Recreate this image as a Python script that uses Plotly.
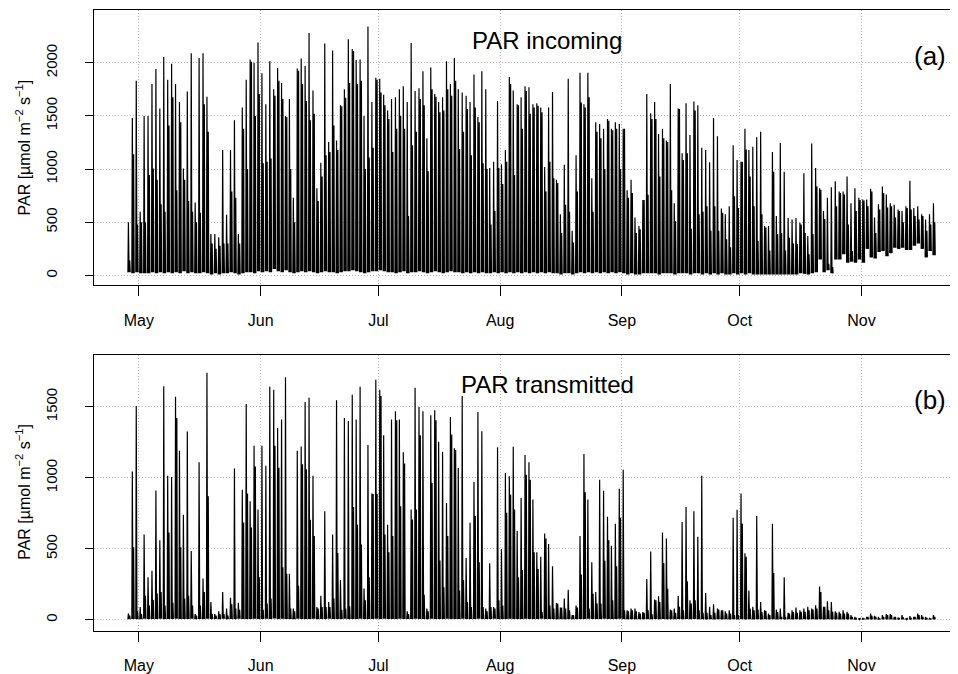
import plotly.graph_objects as go
import pandas as pd

# ---------------- data, one value per day, 2015-04-28 .. 2015-11-19 ----------------
first_day = "2015-04-28"

month_starts = ["2015-05-01", "2015-06-01", "2015-07-01", "2015-08-01", "2015-09-01", "2015-10-01", "2015-11-01"]
month_labels = ["May", "Jun", "Jul", "Aug", "Sep", "Oct", "Nov"]

# (a) PAR incoming: daily highest spike, second spike, daytime low
inc_peak = [
    500, 1480, 1830,
    600, 1500, 1500, 1800, 1940, 1570, 2055, 1840, 1990, 1800, 1630, 1005, 1730, 2090, 685, 2045, 2090, 1680, 390, 390,
    360, 1180, 570, 1180, 1460, 390, 1580, 1840, 2030, 2000, 2190,
    1900, 1610, 2015, 1750, 1950, 1810, 1500, 1660, 730, 1945, 2040, 1970, 2280, 1740, 820, 1060, 2180, 1255, 2115, 1270,
    1600, 1750, 2220, 2130, 2025, 2030, 1500, 2340, 1630, 1860,
    1850, 1700, 1550, 1660, 1675, 1750, 1780, 1630, 2185, 1735, 1760, 1920, 1290, 1955, 1705, 1630, 1675, 2015, 1800, 2045,
    1750, 1720, 1690, 1630, 1890, 1490, 1920, 1750, 1010, 1070, 1640,
    1045, 1180, 1865, 1740, 1610, 1675, 1780, 1770, 1610, 1620, 1580, 1020, 1580, 1725, 900, 575, 1040, 1850, 420, 1130,
    1905, 1610, 1905, 915, 1440, 1425, 1380, 1470, 1380, 1440, 1425,
    1380, 800, 900, 545, 465, 710, 1705, 1525, 1630, 1330, 1380, 1270, 1800, 680, 1570, 1150, 1620, 1320, 1635, 1600,
    1200, 1180, 1065, 1480, 1310, 630, 575, 650, 1225, 1085,
    1070, 1380, 1180, 1210, 1300, 1350, 465, 465, 1160, 560, 1245, 975, 540, 525, 540, 495, 960, 370, 1240, 1010,
    820, 605, 730, 830, 885, 790, 790, 930, 680, 820, 730,
    713, 713, 815, 545, 670, 837, 760, 680, 665, 620, 605, 650, 890, 635, 650, 575, 525, 575, 680,
]
inc_second = [
    140, 1140, 480,
    500, 500, 945, 1005, 900, 670, 600, 1410, 1675, 800, 1440, 900, 700, 600, 500, 590, 1610, 1350, 300, 250,
    280, 300, 300, 790, 730, 300, 1380, 1000, 2010, 1500, 1705,
    1055, 1070, 1100, 1690, 1830, 1660, 1490, 1000, 500, 1925, 1800, 1640, 1460, 1520, 700, 930, 1130, 1160, 1410, 1180,
    1590, 1670, 1810, 2110, 1800, 1830, 1000, 1110, 1200, 1840,
    1720, 1600, 1470, 1160, 1380, 1500, 1380, 560, 1225, 1350, 1660, 1600, 980, 1750, 1680, 1535, 1550, 1750, 1690, 1830,
    1190, 1350, 1565, 1130, 1580, 1440, 1055, 1000, 480, 605, 1010,
    860, 1070, 1800, 945, 1600, 1380, 1735, 1520, 1580, 1595, 1535, 790, 1070, 915, 870, 400, 665, 600, 310, 790,
    1625, 1580, 1675, 600, 1350, 1290, 1000, 1455, 1365, 1380, 1000,
    1380, 730, 775, 400, 435, 710, 760, 1470, 1470, 930, 1290, 1255, 800, 510, 1565, 1085, 1150, 440, 1550, 575,
    600, 650, 420, 650, 420, 590, 340, 265, 745, 635,
    1070, 1185, 930, 650, 325, 575, 450, 235, 975, 390, 400, 235, 355, 300, 295, 480, 400, 200, 390, 837,
    805, 530, 110, 80, 650, 775, 760, 480, 230, 605, 710,
    705, 650, 790, 400, 620, 775, 640, 650, 545, 605, 500, 635, 620, 560, 525, 560, 420, 480, 500,
]
inc_low = [
    30, 20, 30,
    20, 20, 20, 30, 20, 30, 20, 30, 20, 30, 20, 40, 20, 30, 20, 20, 30, 20, 10, 20,
    10, 20, 20, 30, 20, 10, 20, 30, 30, 20, 40,
    30, 40, 30, 60, 40, 30, 50, 30, 20, 30, 40, 30, 40, 30, 20, 30, 40, 30, 30, 20,
    30, 40, 40, 50, 40, 30, 20, 30, 40, 40,
    50, 40, 30, 30, 20, 30, 40, 20, 30, 30, 40, 30, 20, 30, 40, 30, 20, 30, 40, 30,
    30, 20, 30, 20, 30, 20, 30, 20, 20, 30, 20,
    30, 20, 30, 20, 30, 20, 30, 20, 30, 20, 30, 20, 30, 20, 20, 10, 20, 20, 10, 20,
    30, 20, 30, 20, 30, 20, 30, 20, 30, 20, 30,
    20, 10, 20, 10, 10, 20, 20, 20, 20, 10, 20, 20, 20, 10, 20, 20, 20, 10, 20, 20,
    10, 20, 10, 20, 10, 20, 10, 10, 20, 10,
    20, 10, 20, 10, 10, 10, 10, 10, 10, 10, 10, 10, 10, 10, 10, 20, 15, 10, 20, 30,
    150, 30, 50, 20, 150, 150, 200, 120, 130, 120, 150,
    120, 250, 170, 160, 220, 230, 180, 210, 260, 250, 260, 240, 240, 280, 300, 250, 170, 230, 190,
]

# (b) PAR transmitted
tra_peak = [
    44, 1045, 1505,
    90, 600, 300, 345, 910, 560, 1645, 1015, 1005, 1570, 1190, 740, 1325, 485, 40, 1110, 290, 1740, 125, 40,
    60, 195, 80, 155, 1065, 120, 915, 1520, 835, 1225, 777,
    1225, 1085, 1640, 1620, 1350, 1410, 1707, 325, 80, 1190, 1220, 1533, 1563, 1015, 90, 170, 765, 125, 600, 1545,
    280, 1420, 1400, 1585, 1410, 1640, 220, 1230, 890, 1690,
    1620, 1300, 670, 1410, 1468, 1410, 1180, 60, 777, 1633, 1498, 1468, 80, 1440, 1475, 1254, 1184, 823, 1428, 1207,
    1068, 1575, 435, 684, 970, 1463, 1328, 80, 398, 90, 1214,
    498, 1033, 1010, 1219, 626, 858, 1161, 1110, 847, 475, 444, 607, 533, 377, 119, 86, 150, 212, 33, 100,
    590, 1168, 847, 405, 195, 986, 909, 726, 521, 677, 923,
    1056, 67, 80, 80, 55, 55, 288, 481, 142, 165, 614, 572, 72, 80, 167, 688, 795, 137, 765, 584,
    1014, 188, 91, 109, 80, 67, 60, 67, 719, 775,
    889, 468, 207, 91, 730, 126, 67, 44, 677, 72, 80, 300, 50, 67, 86, 67, 79, 91, 79, 102,
    235, 91, 130, 126, 60, 56, 67, 56, 33, 20, 10,
    14, 21, 44, 28, 21, 33, 40, 40, 21, 16, 33, 10, 26, 21, 44, 33, 21, 14, 33,
]
tra_second = [
    30, 510, 60,
    40, 170, 100, 140, 185, 195, 100, 615, 120, 1420, 510, 150, 170, 100, 30, 100, 195, 870, 40, 30,
    40, 40, 30, 110, 80, 70, 685, 890, 650, 1080, 300,
    70, 115, 150, 1225, 1070, 370, 325, 80, 60, 240, 1095, 1060, 705, 590, 80, 90, 90, 90, 150, 470,
    70, 80, 95, 795, 670, 530, 137, 300, 885, 885,
    1575, 600, 475, 590, 1405, 800, 1100, 40, 707, 777, 1300, 177, 60, 963, 1405, 417, 230, 590, 1305, 1195,
    207, 280, 126, 90, 730, 405, 90, 60, 90, 80, 137,
    100, 754, 882, 777, 300, 350, 1021, 986, 475, 358, 55, 572, 100, 80, 114, 86, 80, 67, 33, 86,
    319, 898, 80, 184, 114, 114, 416, 560, 137, 377, 719,
    67, 60, 67, 60, 44, 50, 67, 40, 137, 126, 400, 219, 67, 50, 91, 67, 272, 114, 137, 67,
    50, 50, 33, 50, 72, 67, 44, 44, 33, 33,
    677, 444, 80, 67, 72, 55, 63, 33, 330, 55, 20, 20, 44, 55, 50, 56, 56, 67, 72, 79,
    195, 91, 67, 56, 49, 44, 44, 44, 21, 9, 9,
    9, 21, 28, 21, 9, 21, 33, 33, 21, 9, 16, 9, 9, 21, 33, 21, 14, 9, 20,
]
tra_low = [
    5, 5, 5,
    5, 8, 5, 6, 5, 8, 5, 6, 5, 8, 5, 6, 5, 8, 5, 6, 5, 8, 5, 6,
    5, 8, 5, 6, 5, 8, 5, 6, 5, 8, 5,
    6, 8, 5, 9, 5, 8, 6, 6, 5, 8, 5, 6, 5, 8, 5, 6, 5, 8, 5, 6,
    5, 8, 5, 6, 5, 8, 5, 6, 5, 8,
    6, 8, 5, 6, 5, 8, 5, 6, 5, 8, 5, 6, 5, 8, 5, 6, 5, 8, 5, 6,
    5, 8, 5, 6, 5, 8, 5, 6, 5, 8, 5,
    6, 5, 8, 5, 6, 5, 8, 5, 6, 5, 8, 5, 6, 5, 4, 5, 4, 5, 4, 5,
    6, 5, 8, 5, 6, 5, 8, 5, 6, 5, 8,
    5, 4, 5, 4, 5, 4, 5, 4, 5, 4, 5, 4, 5, 4, 5, 4, 5, 4, 5, 4,
    4, 3, 4, 3, 4, 3, 4, 3, 4, 3,
    4, 3, 4, 3, 4, 3, 4, 3, 4, 3, 4, 3, 4, 3, 4, 3, 4, 3, 4, 3,
    4, 3, 4, 3, 3, 3, 3, 3, 3, 2, 2,
    2, 3, 3, 3, 2, 3, 3, 3, 2, 2, 3, 2, 2, 3, 3, 3, 2, 2, 3,
]

n_days = len(inc_peak)
for name, arr in [("inc_second", inc_second), ("inc_low", inc_low), ("tra_peak", tra_peak),
                  ("tra_second", tra_second), ("tra_low", tra_low)]:
    if len(arr) != n_days:
        raise ValueError(f"{name} has {len(arr)} values, expected {n_days}")

days = pd.date_range(first_day, periods=n_days, freq="D")


def day_traces(peak, second, low):
    xs, ys = [], []
    for d, p, s, lo in zip(days, peak, second, low):
        for hour, v in [(5, lo), (8, p), (12, lo), (16, s), (19, lo)]:
            xs.append(d + pd.Timedelta(hours=hour))
            ys.append(v)
        xs.append(None)
        ys.append(None)
    return xs, ys


xa, ya = day_traces(inc_peak, inc_second, inc_low)
xb, yb = day_traces(tra_peak, tra_second, tra_low)

# the page body adds an 8 px margin, so the figure is drawn 8 px smaller and all positions are shifted by 8 px
OFF = 8
W, H = 958 - OFF, 674 - OFF
FONT = "Liberation Sans, Arial, Helvetica, sans-serif"
GRID = "#b4b4b4"


def px_x(x):
    return (x - OFF) / W


def px_y(y):
    return 1 - (y - OFF) / H


fig = go.Figure()
fig.add_trace(go.Scatter(x=xa, y=ya, mode="lines", line=dict(color="black", width=1.2),
                         connectgaps=False, hoverinfo="skip", showlegend=False, xaxis="x", yaxis="y"))
fig.add_trace(go.Scatter(x=xb, y=yb, mode="lines", line=dict(color="black", width=1.2),
                         connectgaps=False, hoverinfo="skip", showlegend=False, xaxis="x2", yaxis="y2"))

x_range = [pd.Timestamp("2015-04-19 15:00"), pd.Timestamp("2015-11-25 08:00")]


def xaxis(anchor):
    return dict(type="date", range=x_range, domain=[px_x(94.3), 1.0], anchor=anchor,
                tickmode="array", tickvals=month_starts, ticktext=month_labels,
                ticks="outside", ticklen=10, tickcolor="black", tickwidth=1,
                showline=True, linecolor="black", linewidth=1, mirror=True,
                showgrid=True, gridcolor=GRID, griddash="1px,2px", gridwidth=1,
                zeroline=False, ticklabelstandoff=10,
                tickfont=dict(family=FONT, size=16, color="black"))


def yaxis(anchor, top_px, bottom_px, rng, tickvals):
    return dict(range=rng, domain=[px_y(bottom_px), px_y(top_px)], anchor=anchor,
                tickmode="array", tickvals=tickvals, ticktext=[str(v) for v in tickvals],
                tickangle=-90, ticks="outside", ticklen=8, tickcolor="black", tickwidth=1,
                showline=True, linecolor="black", linewidth=1, mirror=True,
                showgrid=True, gridcolor=GRID, griddash="1px,2px", gridwidth=1,
                zeroline=False, ticklabelstandoff=22,
                tickfont=dict(family=FONT, size=15, color="black"))


fig.update_layout(
    width=W, height=H, autosize=False,
    margin=dict(l=0, r=0, t=0, b=0),
    paper_bgcolor="white", plot_bgcolor="white",
    showlegend=False,
    xaxis=xaxis("y"),
    yaxis=yaxis("x", 10, 288.3, [-93, 2496], [0, 500, 1000, 1500, 2000]),
    xaxis2=xaxis("y2"),
    yaxis2=yaxis("x2", 358.3, 637.3, [-76.6, 1867], [0, 500, 1000, 1500]),
)

ylabel = "PAR [µmol m<sup>−2</sup> s<sup>−1</sup>]"
annotations = [
    dict(text="PAR incoming", x=px_x(548), y=px_y(41), xref="paper", yref="paper",
         showarrow=False, font=dict(family=FONT, size=24, color="black"), xanchor="center", yanchor="middle"),
    dict(text="(a)", x=px_x(931), y=px_y(57), xref="paper", yref="paper",
         showarrow=False, font=dict(family=FONT, size=26, color="black"), xanchor="center", yanchor="middle"),
    dict(text="PAR transmitted", x=px_x(548), y=px_y(389), xref="paper", yref="paper",
         showarrow=False, font=dict(family=FONT, size=24, color="black"), xanchor="center", yanchor="middle"),
    dict(text="(b)", x=px_x(931), y=px_y(404), xref="paper", yref="paper",
         showarrow=False, font=dict(family=FONT, size=26, color="black"), xanchor="center", yanchor="middle"),
    dict(text=ylabel, x=px_x(23), y=px_y(149), xref="paper", yref="paper", textangle=-90,
         showarrow=False, font=dict(family=FONT, size=16, color="black"), xanchor="center", yanchor="middle"),
    dict(text=ylabel, x=px_x(23), y=px_y(497), xref="paper", yref="paper", textangle=-90,
         showarrow=False, font=dict(family=FONT, size=16, color="black"), xanchor="center", yanchor="middle"),
]
fig.update_layout(annotations=annotations)

fig.write_html("out.html")
